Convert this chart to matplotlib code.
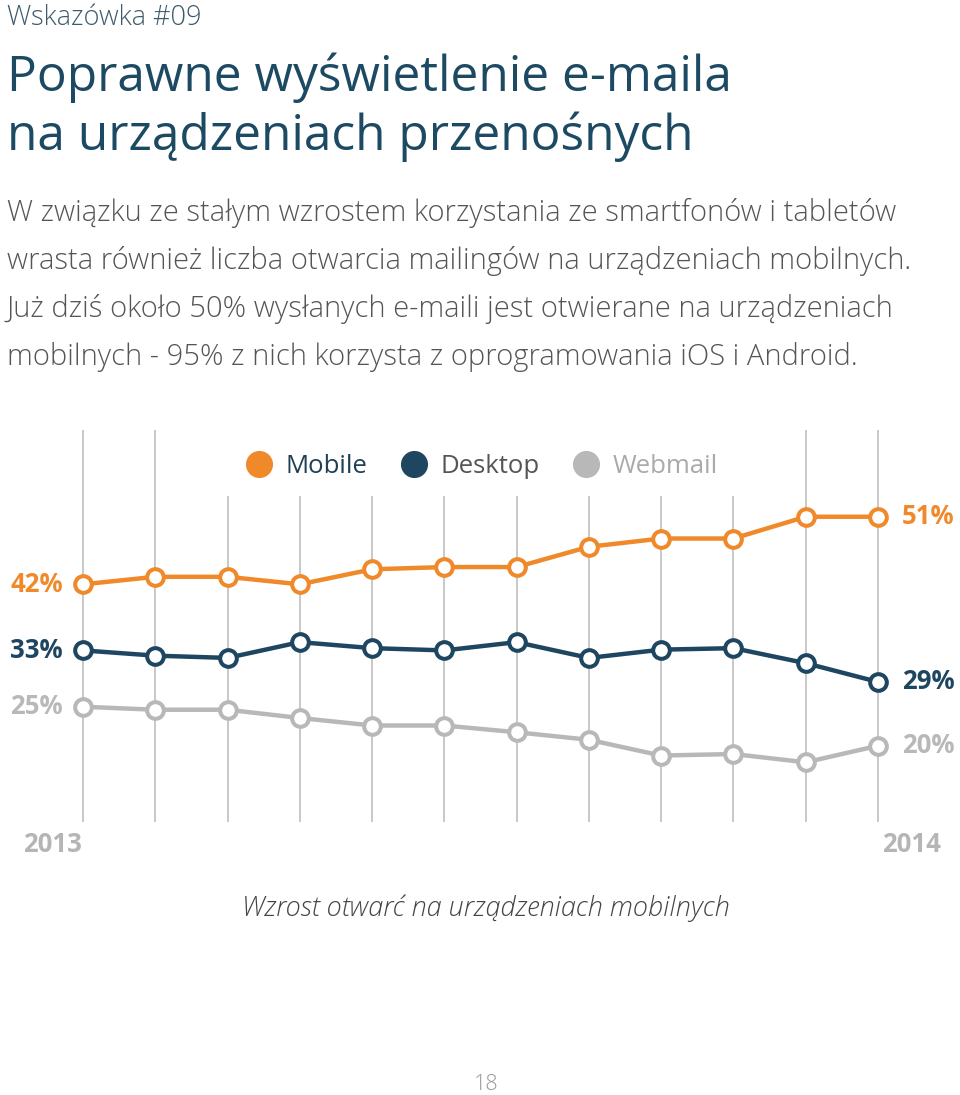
import matplotlib.pyplot as plt
from matplotlib.lines import Line2D

plt.rcParams['font.family'] = ['Open Sans', 'DejaVu Sans']

# data (percent of email opens)
months = list(range(12))
mobile = [42.0, 43.0, 43.0, 42.0, 44.0, 44.3, 44.3, 47.0, 48.1, 48.1, 51.0, 51.0]
desktop = [33.2, 32.5, 32.2, 34.3, 33.5, 33.2, 34.3, 32.2, 33.3, 33.5, 31.5, 29.0]
webmail = [25.7, 25.3, 25.3, 24.2, 23.2, 23.2, 22.3, 21.3, 19.2, 19.4, 18.3, 20.5]
series_names = ['Mobile', 'Desktop', 'Webmail']
start_labels = ['42%', '33%', '25%']
end_labels = ['51%', '29%', '20%']
year_labels = ['2013', '2014']

orange = '#F0892A'
navy = '#1E4660'
grey = '#B8B8B8'
colors = [orange, navy, grey]
legend_text_colors = ['#1F3F55', '#555555', '#AAAAAA']

W, H = 960, 1095
fig = plt.figure(figsize=(W / 100, H / 100), dpi=100)

# header texts
fig.text(7 / W, 1 - 18 / H, 'Wskazówka #09', fontsize=19.5, fontweight='light',
         color='#3D5A6C', va='center', ha='left')
fig.text(7 / W, 1 - 78 / H, 'Poprawne wyświetlenie e-maila', fontsize=35.7,
         color='#1D4A63', va='center', ha='left')
fig.text(7 / W, 1 - 137 / H, 'na urządzeniach przenośnych', fontsize=35.7,
         color='#1D4A63', va='center', ha='left')
body = ['W związku ze stałym wzrostem korzystania ze smartfonów i tabletów',
        'wrasta również liczba otwarcia mailingów na urządzeniach mobilnych.',
        'Już dziś około 50% wysłanych e-maili jest otwierane na urządzeniach',
        'mobilnych - 95% z nich korzysta z oprogramowania iOS i Android.']
for i, line in enumerate(body):
    fig.text(7 / W, 1 - (213 + i * 48) / H, line, fontsize=21,
             fontweight='light', color='#555555', va='center', ha='left')

# chart axes: grid lines span pixel rows 430..822
ax = fig.add_axes([0, 1 - 822 / H, 1, (822 - 430) / H])
ax.set_xlim(-83 / 72.27, 11 + 82 / 72.27)
ax.set_ylim(10.35, 62.55)
ax.axis('off')

for m in months:
    top = 62.55 if m in (0, 1, 10, 11) else 53.76
    ax.vlines(m, 10.35, top, color='#C8C8C8', lw=1.4, zorder=1)

for vals, c in zip([mobile, desktop, webmail], colors):
    ax.plot(months, vals, color=c, lw=3.2, marker='o', markersize=12,
            markerfacecolor='white', markeredgecolor=c, markeredgewidth=2.9,
            zorder=3, clip_on=False)

for vals, c, s, e in zip([mobile, desktop, webmail], colors, start_labels, end_labels):
    ax.text(-0.28, vals[0], s, color=c, fontsize=18.5, fontweight='bold',
            ha='right', va='center')
    ax.text(11.33, vals[-1], e, color=c, fontsize=18.5, fontweight='bold',
            ha='left', va='center')

# year labels below the grid
ax.text(-0.42, 7.3, year_labels[0], color='#B5B5B5', fontsize=18.5,
        fontweight='bold', ha='center', va='center')
ax.text(11.47, 7.3, year_labels[1], color='#B5B5B5', fontsize=18.5,
        fontweight='bold', ha='center', va='center')

handles = [Line2D([], [], marker='o', ls='', markersize=18.5, color=c) for c in colors]
leg = ax.legend(handles, series_names, ncol=3, loc='center',
                bbox_to_anchor=(482 / W, 1 - (466 - 430) / (822 - 430)),
                frameon=False, fontsize=18.5, handletextpad=0.55,
                columnspacing=1.3, handlelength=1.0)
for t, c in zip(leg.get_texts(), legend_text_colors):
    t.set_color(c)

fig.text(486 / W, 1 - 908 / H, 'Wzrost otwarć na urządzeniach mobilnych',
         fontsize=19.5, fontstyle='italic', fontweight='light',
         color='#444444', ha='center', va='center')
fig.text(486 / W, 1 - 1085 / H, '18', fontsize=15.5, fontweight='light',
         color='#999999', ha='center', va='center')

fig.savefig('out.png', dpi=100)
